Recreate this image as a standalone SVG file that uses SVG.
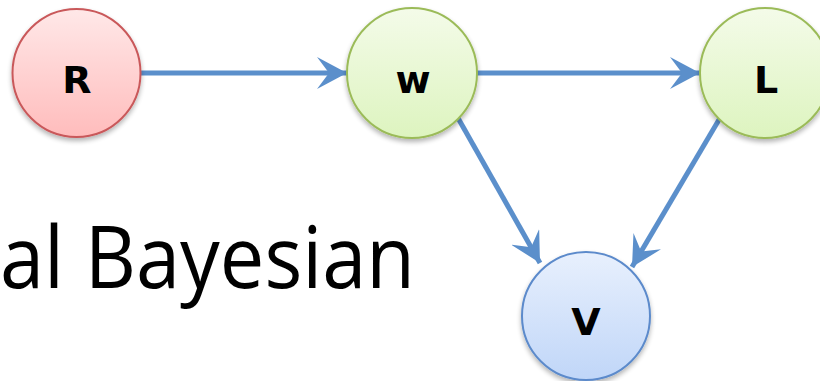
<svg xmlns="http://www.w3.org/2000/svg" width="820" height="381" viewBox="0 0 820 381">
  <defs>
    <linearGradient id="gRed" x1="0" y1="0" x2="0" y2="1">
      <stop offset="0" stop-color="#ffe8e8"/>
      <stop offset="1" stop-color="#ffbcbc"/>
    </linearGradient>
    <linearGradient id="gGreen" x1="0" y1="0" x2="0" y2="1">
      <stop offset="0" stop-color="#f4fbe9"/>
      <stop offset="1" stop-color="#ddf4bf"/>
    </linearGradient>
    <linearGradient id="gBlue" x1="0" y1="0" x2="0" y2="1">
      <stop offset="0" stop-color="#e8f0fd"/>
      <stop offset="1" stop-color="#c0d6f8"/>
    </linearGradient>
    <filter id="shadow" x="-20%" y="-20%" width="140%" height="150%">
      <feGaussianBlur in="SourceAlpha" stdDeviation="2.5"/>
      <feOffset dx="0" dy="3" result="b"/>
      <feComponentTransfer><feFuncA type="linear" slope="0.3"/></feComponentTransfer>
      <feMerge><feMergeNode/><feMergeNode in="SourceGraphic"/></feMerge>
    </filter>
    <marker id="arrow" viewBox="0 0 30 32" refX="30" refY="16" markerWidth="30" markerHeight="32" markerUnits="userSpaceOnUse" orient="auto">
      <path d="M0,0 L30,16 L0,32 L12,16 Z" fill="#5b8fcb"/>
    </marker>
  </defs>
  <style>
    .edge { stroke: #5b8fcb; stroke-width: 5; fill: none; marker-end: url(#arrow); }
    .node circle { stroke-width: 2; filter: url(#shadow); }
    .label { font-family: "DejaVu Sans", Verdana, sans-serif; font-weight: bold; font-size: 38px; text-anchor: middle; fill: #000; }
    .title { font-family: "Open Sans", "Liberation Sans", sans-serif; font-size: 86px; fill: #000; }
  </style>

  <!-- heading text, partially visible at the left edge -->
  <text class="title" x="0" y="288" textLength="415" lengthAdjust="spacingAndGlyphs">al Bayesian</text>

  <g id="connectors">
    <line class="edge" x1="141" y1="73" x2="347" y2="73"/>
    <line class="edge" x1="477" y1="73" x2="700" y2="73"/>
    <line class="edge" x1="458" y1="118" x2="540" y2="263"/>
    <line class="edge" x1="720" y1="118" x2="632" y2="267"/>
  </g>

  <g id="node-R" class="node">
    <circle cx="76.5" cy="73" r="64" fill="url(#gRed)" stroke="#c9585a"/>
    <text class="label" x="77" y="93">R</text>
  </g>
  <g id="node-w" class="node">
    <circle cx="412" cy="73" r="65" fill="url(#gGreen)" stroke="#9bbb59"/>
    <text class="label" x="413" y="93">w</text>
  </g>
  <g id="node-L" class="node">
    <circle cx="765" cy="73" r="65" fill="url(#gGreen)" stroke="#9bbb59"/>
    <text class="label" x="766" y="93">L</text>
  </g>
  <g id="node-V" class="node">
    <circle cx="586" cy="316" r="64" fill="url(#gBlue)" stroke="#5b8acb"/>
    <text class="label" x="586" y="335">V</text>
  </g>
</svg>
